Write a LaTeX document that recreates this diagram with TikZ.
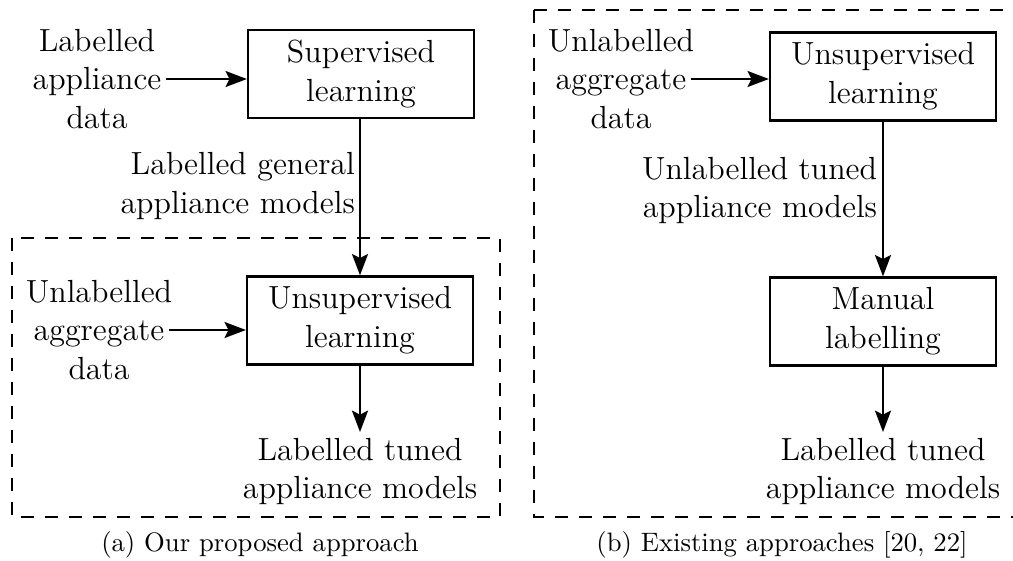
\documentclass[tikz,border=0pt]{standalone}
\usetikzlibrary{arrows.meta}
\begin{document}
\begin{tikzpicture}[x=0.375pt,y=-0.375pt,
  every node/.style={font=\fontsize{12}{14.5}\selectfont},
  box/.style={draw, line width=0.85pt, minimum width=84.75pt, minimum height=33pt, align=center, inner sep=0pt},
  txt/.style={align=center, inner sep=1.5pt},
  arr/.style={line width=0.85pt, -{Stealth[length=8pt,width=6pt,inset=1.5pt]}},
  frame/.style={draw, line width=0.85pt, dash pattern=on 4.8pt off 4.2pt},
  captext/.style={font=\fontsize{10}{12}\selectfont, inner sep=0pt}]
\useasboundingbox (0,0) rectangle (1013,561);
% ---------- (a)
\draw[frame] (12,238) rectangle (500,517);
\node[box] (sup) at (361,74) {Supervised\\learning};
\node[txt] (in1) at (97,79) {Labelled\\appliance\\data};
\draw[arr] (in1.east) -- (in1.east -| sup.west);
\node[box] (uns1) at (360,320.5) {Unsupervised\\learning};
\node[txt, inner sep=0pt] (in2) at (99,330) {Unlabelled\\aggregate\\data};
\draw[arr, shorten <=-1.2pt] (in2.east) -- (in2.east -| uns1.west);
\draw[arr] (sup.south -| uns1.north) -- node[pos=0.43, left, align=right, inner sep=1.5pt, name=lab1] {Labelled general\\appliance models} (uns1.north);
\node[txt, anchor=north, inner sep=2pt] (out1) at (360,432) {Labelled tuned\\appliance models};
\draw[arr] (uns1.south) -- (out1.north);
\node[captext] (capa) at (260,545) {(a) Our proposed approach};
% ---------- (b)
\draw[frame] (534,10) -- (1025,10) (534,10) -- (534,517) -- (1025,517);
\node[box] (uns2) at (883,76.5) {Unsupervised\\learning};
\node[txt, inner sep=0pt] (in3) at (621,79) {Unlabelled\\aggregate\\data};
\draw[arr, shorten <=-1.5pt] (in3.east) -- (in3.east -| uns2.west);
\node[box] (man) at (883,321.5) {Manual\\labelling};
\draw[arr] (uns2.south) -- node[pos=0.446, left, align=right, inner sep=1.8pt, name=lab2] {Unlabelled tuned\\appliance models} (man.north);
\node[txt, anchor=north, inner sep=2pt] (out2) at (883,432) {Labelled tuned\\appliance models};
\draw[arr] (man.south) -- (out2.north);
\node[captext] (capb) at (782,545) {(b) Existing approaches [20, 22]};
\end{tikzpicture}
\end{document}
